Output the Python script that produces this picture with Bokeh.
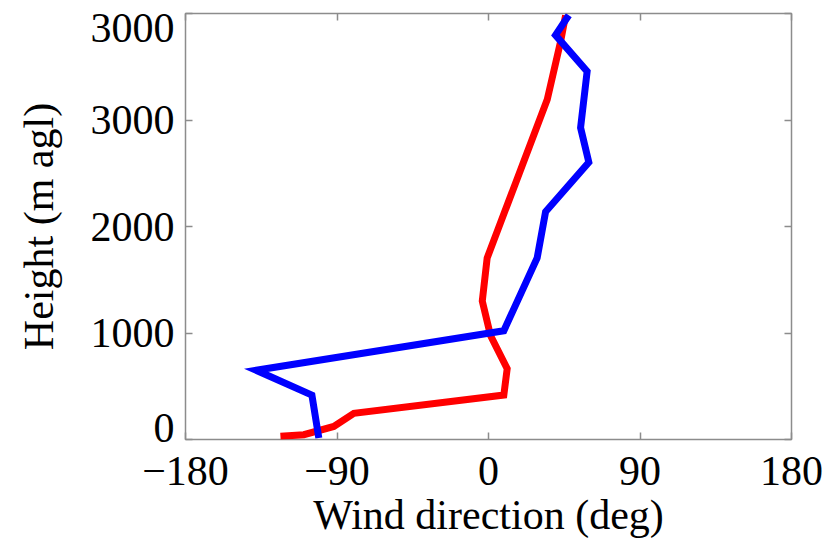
from bokeh.plotting import figure
from bokeh.models import Range1d, LinearAxis, FixedTicker
from bokeh.embed import file_html
from bokeh.resources import INLINE

# Wind direction profiles (deg) vs height (m agl)
red_dir = [-123.6, -109.7, -91.9, -80.0, 9.1, 11.1, 1.2, -3.7, -0.8, 34.9, 42.8, 45.8]
red_hgt = [30, 45, 123, 246, 417, 665, 975, 1300, 1704, 3193, 3735, 3983]
blue_dir = [-100.8, -104.9, -138.0, 9.1, 28.9, 33.9, 59.6, 54.7, 58.6, 39.8, 47.7]
blue_hgt = [14, 417, 650, 1021, 1704, 2138, 2603, 2928, 3456, 3797, 3983]

x_ticks = [-180, -90, 0, 90, 180]
x_tick_labels = {-180: "\u2212180", -90: "\u221290", 0: "0", 90: "90", 180: "180"}
y_ticks = [0, 1000, 2000, 3000, 4000]
# tick labels as printed (bottom and top label nudged inside the frame)
y_label_pos = [110, 1000, 2000, 3000, 3860]
y_label_text = {110: "0", 1000: "1000", 2000: "2000", 3000: "3000", 3860: "3000"}

FONT = "Liberation Serif"
FS = "42px"
GRAY = "#8c8c8c"

p = figure(width=830, height=540, output_backend="svg", toolbar_location=None,
           x_range=Range1d(-180, 180), y_range=Range1d(0, 4000),
           x_axis_location=None, y_axis_location=None,
           min_border_left=185, min_border_right=39, min_border_top=13, min_border_bottom=100)
p.xgrid.visible = False
p.ygrid.visible = False
p.outline_line_color = GRAY
p.outline_line_width = 1.5

def tick_axis(ticks, labels=None):
    ax = LinearAxis(ticker=FixedTicker(ticks=ticks))
    ax.axis_line_color = None
    ax.major_tick_in = 7
    ax.major_tick_out = 0
    ax.major_tick_line_color = GRAY
    ax.major_tick_line_width = 1.5
    ax.minor_tick_line_color = None
    if labels is None:
        ax.major_label_overrides = {t: "" for t in ticks}
        ax.major_label_standoff = 0
        ax.major_label_text_font_size = "1px"
    else:
        ax.major_label_overrides = labels
        ax.major_label_text_font = FONT
        ax.major_label_text_font_size = FS
        ax.major_label_text_color = "black"
    return ax

# bottom axis with labels
xb = tick_axis(x_ticks, x_tick_labels)
xb.major_label_standoff = 17
xb.major_label_text_line_height = 0.9
xb.axis_label = "Wind direction (deg)"
xb.axis_label_text_font = FONT
xb.axis_label_text_font_size = FS
xb.axis_label_text_font_style = "normal"
xb.axis_label_text_color = "black"
xb.axis_label_text_line_height = 0.9
xb.axis_label_standoff = 4
p.add_layout(xb, "below")

# left: inner tick-only axis, outer label axis
yl_ticks = tick_axis(y_ticks)
p.add_layout(yl_ticks, "left")
yl = LinearAxis(ticker=FixedTicker(ticks=y_label_pos))
yl.axis_line_color = None
yl.major_tick_line_color = None
yl.minor_tick_line_color = None
yl.major_label_overrides = y_label_text
yl.major_label_text_font = FONT
yl.major_label_text_font_size = FS
yl.major_label_text_color = "black"
yl.major_label_standoff = 5
yl.axis_label = "Height (m agl)"
yl.axis_label_text_font = FONT
yl.axis_label_text_font_size = FS
yl.axis_label_text_font_style = "normal"
yl.axis_label_text_color = "black"
yl.axis_label_standoff = 26
p.add_layout(yl, "left")

p.add_layout(tick_axis(x_ticks), "above")
p.add_layout(tick_axis(y_ticks), "right")

p.line(red_dir, red_hgt, line_color="#ff0000", line_width=7, line_join="miter")
p.line(blue_dir, blue_hgt, line_color="#0000ff", line_width=7, line_join="miter")

open("out.html", "w").write(file_html(p, INLINE))
